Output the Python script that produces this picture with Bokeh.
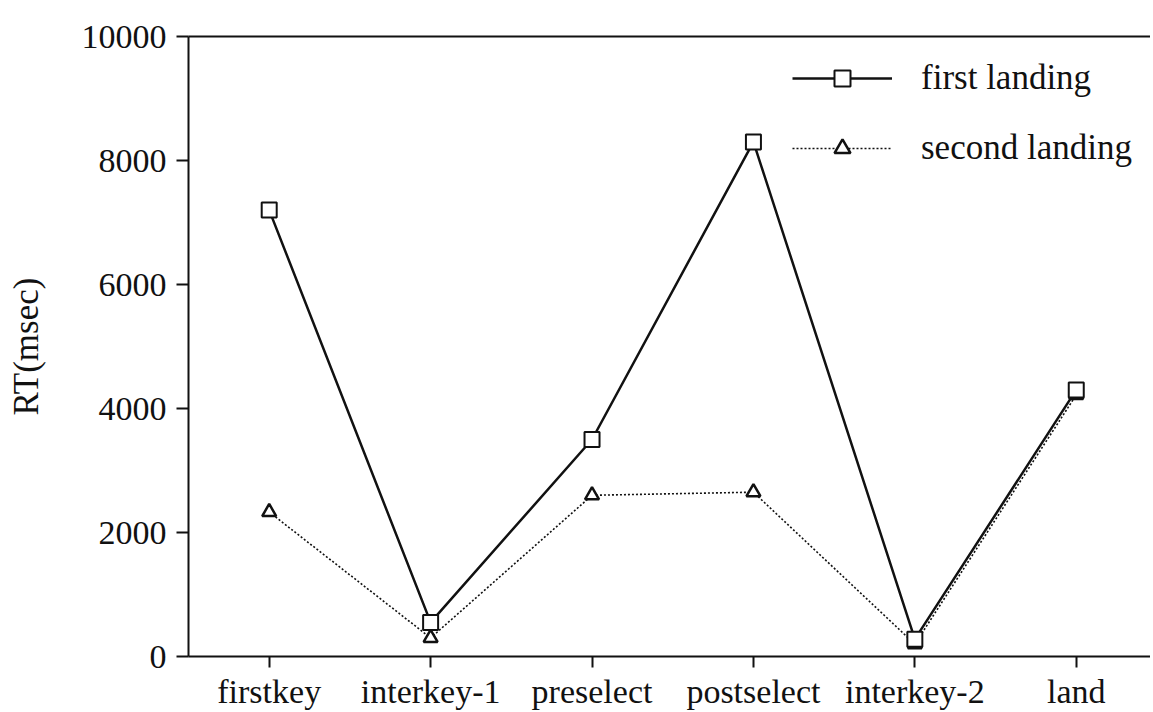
from bokeh.plotting import figure
from bokeh.models import Range1d, LinearAxis, FixedTicker, Legend, LegendItem
from bokeh.embed import file_html
from bokeh.resources import INLINE

categories = ["firstkey", "interkey-1", "preselect", "postselect", "interkey-2", "land"]
first_landing = [7200, 550, 3500, 8300, 280, 4300]
second_landing = [2330, 300, 2600, 2650, 200, 4220]
y_ticks = [0, 2000, 4000, 6000, 8000, 10000]

FONT = "Liberation Serif"
INK = "#111111"

x = list(range(len(categories)))

p = figure(width=1150, height=712, output_backend="svg", toolbar_location=None,
           x_range=Range1d(-0.5, 5.46), y_range=Range1d(0, 10000),
           min_border_left=188, min_border_right=0, min_border_top=36, min_border_bottom=55)
p.outline_line_color = None
p.grid.visible = False
p.background_fill_color = "white"
p.border_fill_color = "white"

xa = p.below[0]
xa.ticker = FixedTicker(ticks=x)
xa.major_label_overrides = {i: c for i, c in zip(x, categories)}
xa.major_label_text_font = FONT
xa.major_label_text_font_size = "34px"
xa.major_label_text_color = INK
xa.major_label_standoff = 5
xa.major_tick_in = 0
xa.major_tick_out = 11
xa.major_tick_line_width = 2
xa.major_tick_line_color = INK
xa.minor_tick_line_color = None
xa.axis_line_width = 2
xa.axis_line_color = INK

ya = p.left[0]
ya.ticker = FixedTicker(ticks=y_ticks)
ya.major_label_text_font = FONT
ya.major_label_text_font_size = "34px"
ya.major_label_text_color = INK
ya.major_label_standoff = 10
ya.major_tick_in = 0
ya.major_tick_out = 12
ya.major_tick_line_width = 2
ya.major_tick_line_color = INK
ya.minor_tick_line_color = None
ya.axis_line_width = 2
ya.axis_line_color = INK
ya.axis_label = "RT(msec)"
ya.axis_label_text_font = FONT
ya.axis_label_text_font_size = "35px"
ya.axis_label_text_font_style = "normal"
ya.axis_label_text_color = INK
ya.axis_label_standoff = 33

# top frame line
top = LinearAxis(ticker=FixedTicker(ticks=[]), major_label_text_font_size="0px",
                 major_tick_line_color=None, minor_tick_line_color=None,
                 major_tick_out=0, major_label_standoff=0,
                 axis_line_width=2, axis_line_color=INK)
p.add_layout(top, "above")

# second landing (drawn first, beneath)
l2 = p.line(x, second_landing, line_color=INK, line_width=1.6, line_dash="2 2")
m2 = p.scatter(x, second_landing, marker="triangle", size=14, fill_color="white",
               line_color=INK, line_width=2.5)
# first landing
l1 = p.line(x, first_landing, line_color=INK, line_width=2.5)
m1 = p.scatter(x, first_landing, marker="square", size=15, fill_color="white",
               line_color=INK, line_width=2)

legend = Legend(items=[LegendItem(label="first landing", renderers=[l1, m1]),
                       LegendItem(label="second landing", renderers=[l2, m2])],
                location=(604, 488), orientation="vertical")
legend.label_text_font = FONT
legend.label_text_font_size = "35px"
legend.label_text_color = INK
legend.glyph_width = 100
legend.glyph_height = 40
legend.label_height = 40
legend.spacing = 30
legend.label_standoff = 29
legend.padding = 10
legend.margin = 0
legend.border_line_color = None
legend.background_fill_alpha = 0
p.add_layout(legend, "center")

open("out.html", "w").write(file_html(p, INLINE))
